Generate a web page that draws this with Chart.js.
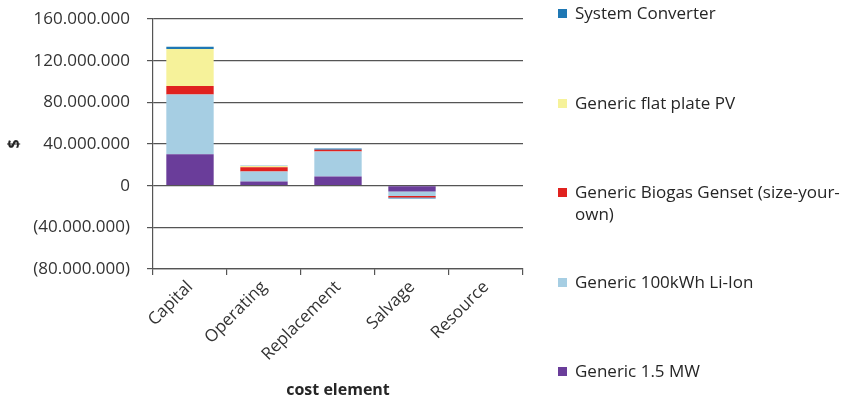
<!DOCTYPE html>
<html>
<head>
<meta charset="utf-8">
<script src="https://cdn.jsdelivr.net/npm/chart.js@4.4.1/dist/chart.umd.min.js"></script>
<style>
  html, body { margin: 0; padding: 0; background: #fff; }
  #wrap { position: relative; width: 842px; height: 401px; overflow: hidden; }
  #legend { position: absolute; left: 556px; top: 0; width: 286px; height: 401px;
            font-family: "Open Sans", sans-serif; font-size: 17px; color: #262626; }
  .item { position: absolute; left: 0; width: 286px; line-height: 22px; }
  .sw { position: absolute; left: 2px; top: 7px; width: 9px; height: 9px; }
  .txt { margin-left: 19px; }
</style>
</head>
<body>
<div id="wrap">
  <canvas id="c" width="842" height="401"></canvas>
  <div id="legend"></div>
</div>
<script>
// Cost categories along the x axis
const categories = ['Capital', 'Operating', 'Replacement', 'Salvage', 'Resource'];

// Cost per component and category ($)
const generic15MW    = [30100000, 3900000, 8900000, -5500000, 0];
const genericLiIon   = [57400000, 9600000, 24000000, -4500000, 0];
const genericBiogas  = [8300000, 4100000, 1600000, -1300000, 0];
const genericFlatPV  = [35300000, 1300000, 0, 0, 0];
const systemConverter = [2200000, 200000, 1300000, -1000000, 0];

const seriesNames = ['Generic 1.5 MW', 'Generic 100kWh Li-Ion',
  'Generic Biogas Genset (size-your-own)', 'Generic flat plate PV', 'System Converter'];
const seriesColors = ['#6a3d9a', '#a6cee3', '#e0221f', '#f6f29a', '#1f78b4'];
const seriesValues = [generic15MW, genericLiIon, genericBiogas, genericFlatPV, systemConverter];

// Y axis range and step
const yMin = -80000000, yMax = 160000000, yStep = 40000000;

const FONT = '"Open Sans", sans-serif';

function fmt(v) {
  const s = Math.abs(v).toFixed(0).replace(/\B(?=(\d{3})+(?!\d))/g, '.');
  return v < 0 ? '(' + s + ')' : s;
}

const chart = new Chart(document.getElementById('c'), {
  type: 'bar',
  data: {
    labels: categories,
    datasets: seriesValues.map((vals, i) => ({
      label: seriesNames[i],
      data: vals,
      backgroundColor: seriesColors[i],
      borderWidth: 0,
      categoryPercentage: 1,
      barPercentage: 0.64
    }))
  },
  options: {
    responsive: false,
    animation: false,
    devicePixelRatio: 1,
    layout: { padding: { top: 19, right: 319, bottom: 0, left: 0 } },
    plugins: { legend: { display: false }, tooltip: { enabled: false } },
    scales: {
      x: {
        stacked: true,
        grid: { drawOnChartArea: false, color: '#555', lineWidth: 1.2, tickLength: 6, offset: true },
        border: { color: '#555', width: 1.2 },
        ticks: { minRotation: 45, maxRotation: 45, color: '#333', padding: 2,
                 font: { family: FONT, size: 17 } },
        title: { display: true, text: 'cost element', color: '#262626',
                 font: { family: FONT, size: 16, weight: 'bold' }, padding: { top: 0, bottom: 1 } },
        afterFit: s => { s.height = 132; }
      },
      y: {
        stacked: true,
        min: yMin, max: yMax,
        ticks: { stepSize: yStep, color: '#333', padding: 17,
                 font: { family: FONT, size: 17 }, callback: v => fmt(v) },
        grid: { color: '#555', lineWidth: 1.2, tickLength: 6 },
        border: { color: '#555', width: 1.2 },
        title: { display: true, text: '$', color: '#262626',
                 font: { family: FONT, size: 16, weight: 'bold' }, padding: { top: 5, bottom: 0 } },
        afterFit: s => { s.width = 153; s.paddingTop = 0; s.paddingBottom = 0; }
      }
    }
  }
});

// Legend listing the components, top series first
const legend = document.getElementById('legend');
chart.data.datasets.slice().reverse().forEach((ds, i) => {
  const item = document.createElement('div');
  item.className = 'item';
  item.style.top = (2 + i * 89.5) + 'px';
  const sw = document.createElement('span');
  sw.className = 'sw';
  sw.style.background = ds.backgroundColor;
  const t = document.createElement('div');
  t.className = 'txt';
  t.textContent = ds.label;
  item.appendChild(sw);
  item.appendChild(t);
  legend.appendChild(item);
});
</script>
</body>
</html>
